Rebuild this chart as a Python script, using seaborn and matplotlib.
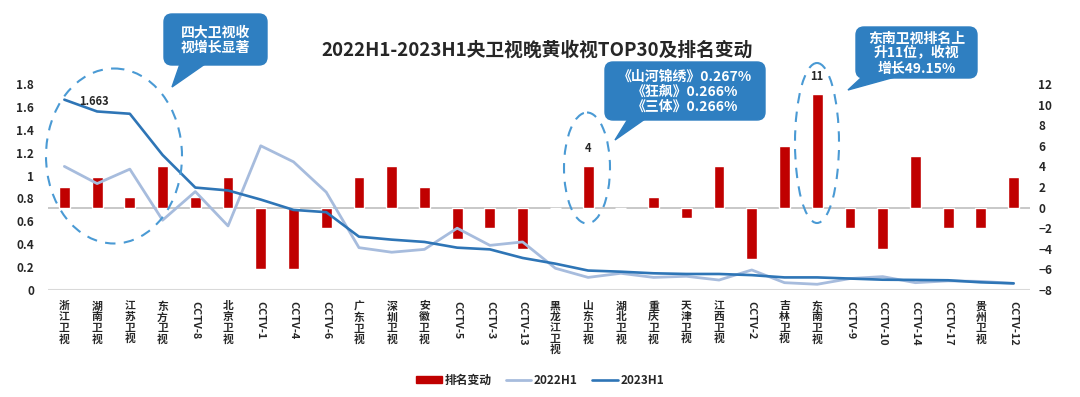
import matplotlib
matplotlib.use("Agg")
import matplotlib.pyplot as plt
import matplotlib.transforms as mtransforms
from matplotlib.patches import FancyBboxPatch, Polygon, Ellipse, Patch
from matplotlib.lines import Line2D
import numpy as np
import seaborn as sns

channels = [
    "浙江卫视", "湖南卫视", "江苏卫视", "东方卫视", "CCTV-8", "北京卫视",
    "CCTV-1", "CCTV-4", "CCTV-6", "广东卫视", "深圳卫视", "安徽卫视",
    "CCTV-5", "CCTV-3", "CCTV-13", "黑龙江卫视", "山东卫视", "湖北卫视",
    "重庆卫视", "天津卫视", "江西卫视", "CCTV-2", "吉林卫视", "东南卫视",
    "CCTV-9", "CCTV-10", "CCTV-14", "CCTV-17", "贵州卫视", "CCTV-12",
]
rank_change = [2, 3, 1, 4, 1, 3, -6, -6, -2, 3, 4, 2, -3, -2, -4, 0, 4, 0,
               1, -1, 4, -5, 6, 11, -2, -4, 5, -2, -2, 3]
rating_2022 = [1.08, 0.93, 1.056, 0.61, 0.86, 0.56, 1.26, 1.12, 0.855, 0.37,
               0.33, 0.355, 0.54, 0.39, 0.42, 0.19, 0.11, 0.146, 0.11, 0.12,
               0.087, 0.175, 0.064, 0.05, 0.10, 0.117, 0.064, 0.08, 0.075, 0.058]
rating_2023 = [1.663, 1.56, 1.54, 1.18, 0.895, 0.87, 0.79, 0.70, 0.68, 0.466,
               0.44, 0.42, 0.37, 0.355, 0.28, 0.23, 0.17, 0.16, 0.146, 0.14,
               0.14, 0.13, 0.11, 0.11, 0.10, 0.09, 0.088, 0.085, 0.067, 0.058]

RED = "#C00000"
LIGHT = "#A7BCDD"
DARK = "#2E75B6"
BOX = "#2F7FC1"
DASH = "#4A9AD4"

sns.set_theme(style="white")
plt.rcParams["font.family"] = ["Noto Sans CJK SC", "DejaVu Sans"]
plt.rcParams["font.weight"] = "bold"

W, H = 1080, 397
fig = plt.figure(figsize=(W / 100, H / 100), dpi=100)
ax = fig.add_axes([48 / W, (H - 290) / H, 982 / W, 206 / H])
ax2 = ax.twinx()

x = np.arange(len(channels))

# bars: rank change (right axis)
sns.barplot(x=x, y=rank_change, ax=ax, color=RED, width=0.33, saturation=1)
ax.axhline(0, color="#BFBFBF", lw=1.2, zorder=0)
ax.set_ylim(-8, 12)
ax.set_yticks(range(-8, 13, 2))
ax.yaxis.tick_right()

# lines: ratings (left axis)
sns.lineplot(x=x, y=rating_2022, ax=ax2, color=LIGHT, lw=2.0)
sns.lineplot(x=x, y=rating_2023, ax=ax2, color=DARK, lw=1.9)
ax2.axhline(0, color="#D9D9D9", lw=1.5, zorder=0)
ax2.set_ylim(0, 1.8)
ax2.set_yticks(np.arange(0, 1.81, 0.2))
ax2.set_yticklabels(["0", "0.2", "0.4", "0.6", "0.8", "1", "1.2", "1.4", "1.6", "1.8"])
ax2.yaxis.tick_left()
ax.set_xlim(-0.5, len(channels) - 0.5)

for a in (ax, ax2):
    for s in a.spines.values():
        s.set_visible(False)
    a.tick_params(axis="y", length=0, labelsize=8.5)
    a.set_ylabel("")
ax.tick_params(axis="y", pad=6)
ax2.tick_params(axis="y", pad=10)

# x tick labels: Chinese stacked vertically, CCTV rotated
ax.set_xticks(x)
ax.set_xticklabels([c if c.startswith("CCTV") else "\n".join(c) for c in channels])
ax.tick_params(axis="x", length=0, pad=8, labelsize=7.8)
for lab, c in zip(ax.get_xticklabels(), channels):
    lab.set_fontweight("bold")
    lab.set_va("top")
    lab.set_linespacing(1.1)
    if c.startswith("CCTV"):
        lab.set_rotation(270)
for lab in ax.get_yticklabels() + ax2.get_yticklabels():
    lab.set_fontweight("bold")
ax.set_xlabel("")

# data labels
ax2.annotate("1.663", (0, rating_2023[0]), xytext=(21, -1), textcoords="offset points",
             ha="center", va="center", fontsize=8, fontweight="bold")
for i in (16, 23):
    ax.annotate(str(rank_change[i]), (i, rank_change[i]), xytext=(0, 8),
                textcoords="offset points", ha="center", va="bottom",
                fontsize=8, fontweight="bold")

fig.suptitle("2022H1-2023H1央卫视晚黄收视TOP30及排名变动", x=0.497, y=1 - 50 / H,
             va="center", fontsize=13.5, fontweight="bold")

# pixel transform (origin top-left) for decorations
pix = mtransforms.Affine2D().scale(1 / W, -1 / H).translate(0, 1) + fig.transFigure

for cx, cy, w, h in [(114, 156, 136, 175), (587, 168, 46, 111), (817, 143, 44, 160)]:
    fig.patches.append(Ellipse((cx, cy), w, h, transform=pix, fill=False,
                               ec=DASH, lw=1.5, ls=(0, (5, 4))))

callouts = [
    ((164, 14, 267, 65), [(180, 64), (205, 64), (172, 87)], "四大卫视收\n视增长显著"),
    ((605, 62, 765, 120), [(628, 119), (645, 119), (615, 140)],
     "《山河锦绣》0.267%\n《狂飙》0.266%\n《三体》0.266%"),
    ((856, 27, 977, 78), [(862, 77), (895, 77), (848, 90)],
     "东南卫视排名上\n升11位，收视\n增长49.15%"),
]
for (x0, y0, x1, y1), tail, txt in callouts:
    fig.patches.append(FancyBboxPatch((x0, y0), x1 - x0, y1 - y0, transform=pix,
                                      boxstyle="round,pad=0,rounding_size=8",
                                      fc=BOX, ec=BOX, lw=1))
    fig.patches.append(Polygon(tail, closed=True, transform=pix, fc=BOX, ec=BOX, lw=1))
    fig.text((x0 + x1) / 2, (y0 + y1) / 2 + 1, txt, transform=pix, ha="center",
             va="center", color="white", fontsize=10, fontweight="bold",
             linespacing=1.1, multialignment="center")

handles = [
    Patch(fc=RED, ec=RED, label="排名变动"),
    Line2D([], [], color=LIGHT, lw=2.0, label="2022H1"),
    Line2D([], [], color=DARK, lw=1.9, label="2023H1"),
]
fig.legend(handles=handles, loc="center", bbox_to_anchor=(540 / W, 1 - 380 / H),
           ncol=3, frameon=False, handlelength=2.2,
           handleheight=0.6, columnspacing=1.2, handletextpad=0.2,
           prop={"weight": "bold", "size": 8.5})

fig.savefig("out.png", dpi=100)
